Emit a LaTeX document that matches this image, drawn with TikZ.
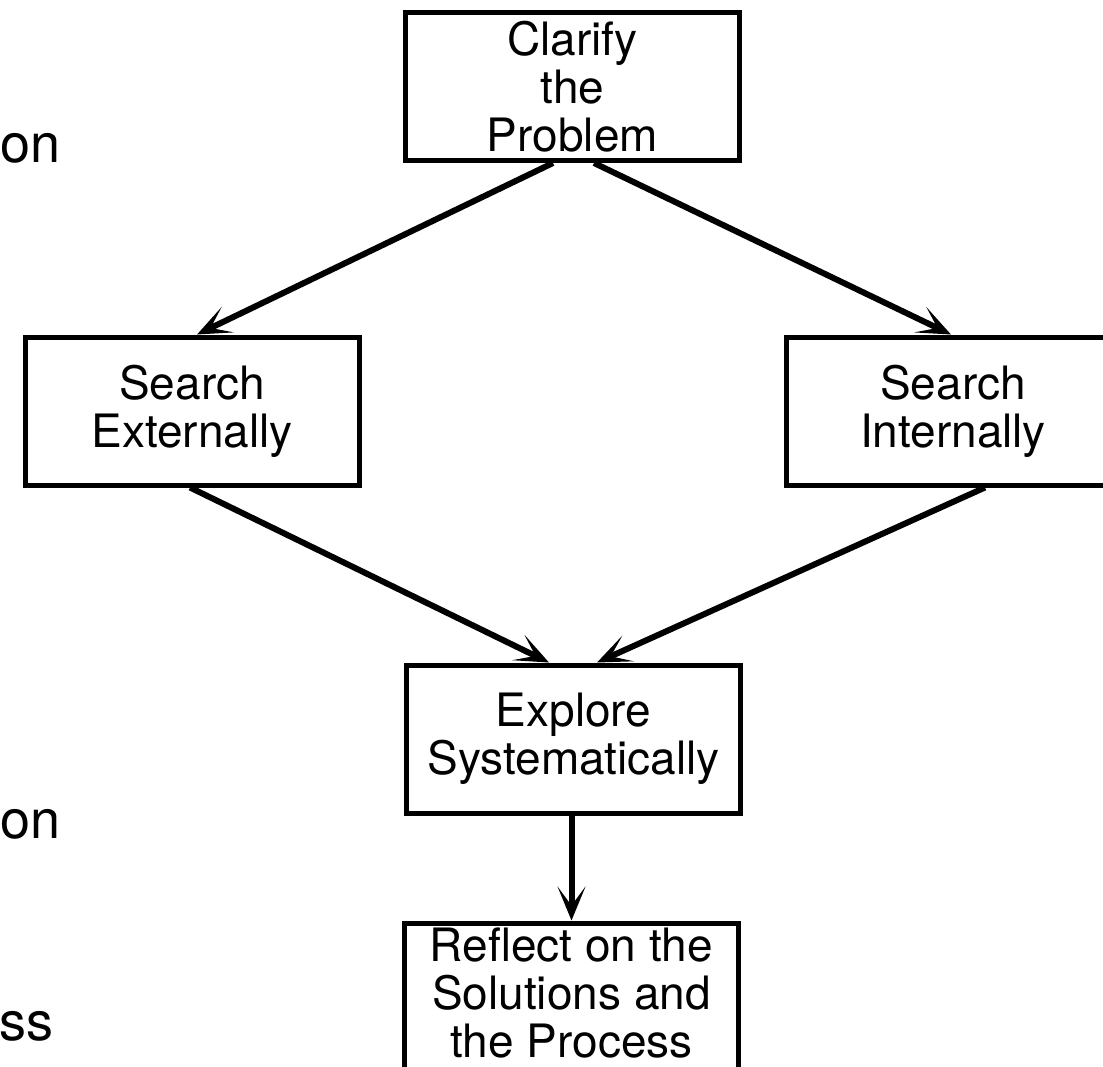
\documentclass[tikz,border=0pt]{standalone}
\usepackage{fontspec}
\setmainfont{TeX Gyre Heros}
\usetikzlibrary{arrows.meta, positioning}

\begin{document}
\begin{tikzpicture}[
        x=1pt, y=-1pt,
        block/.style={draw, line width=5pt, minimum width=334pt, minimum height=148pt,
            inner sep=0pt, align=center, font=\fontsize{46}{48}\selectfont},
        flow/.style={line width=6pt, -{Stealth[length=34pt, width=28pt, inset=19pt]}},
        side/.style={anchor=base east, inner sep=0pt, font=\fontsize{54}{60}\selectfont}
    ]
        \useasboundingbox (0,0) rectangle (1103,1066);

        % steps
        \node[block] (clarify) at (572.5,86.5) {Clarify\\the\\Problem};
        \node[block] (ext) at (192,411) {Search\\Externally};
        \node[block] (int) at (953,411) {Search\\Internally};
        \node[block] (explore) at (573.5,739) {Explore\\Systematically};
        \node[block, text depth=8pt] (reflect) at (571.5,997) {Reflect on the\\Solutions and\\the Process};

        % cut-off text on the left
        \node[side] (t1) at (61,162) {on};
        \node[side] (t2) at (61,838) {on};
        \node[side] (t3) at (54,1040) {ss};

        \draw[flow] ([xshift=-19.5pt]clarify.south) -- ([xshift=5pt]ext.north);
        \draw[flow] ([xshift=21.5pt]clarify.south) -- ([xshift=-2pt]int.north);
        \draw[flow] ([xshift=-2pt]ext.south) -- ([xshift=-24.5pt]explore.north);
        \draw[flow] ([xshift=32pt]int.south) -- ([xshift=23.5pt]explore.north);
        \draw[flow] (explore.south -| reflect.north) -- (reflect.north);
    \end{tikzpicture}
\end{document}
